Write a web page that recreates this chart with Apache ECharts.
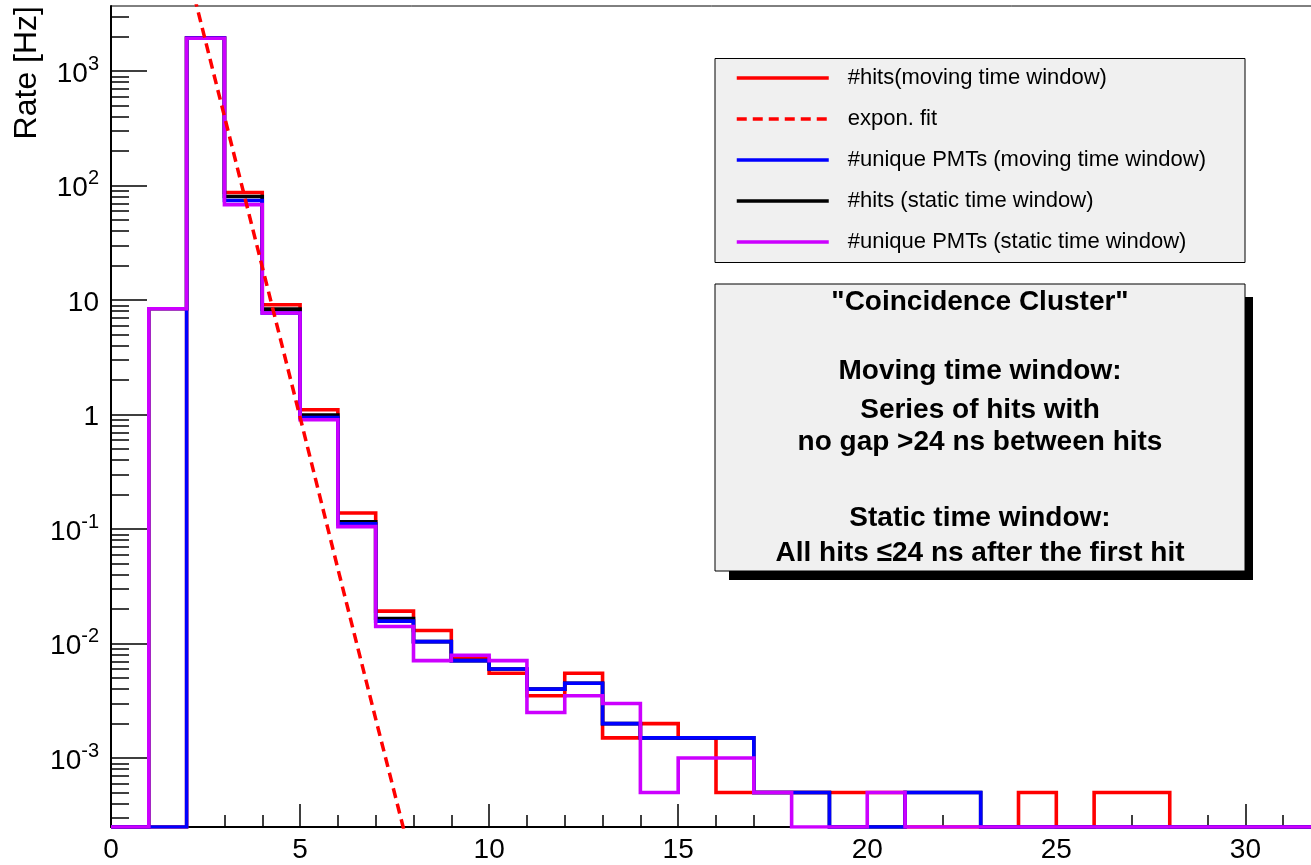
<!DOCTYPE html>
<html>
<head>
<meta charset="utf-8">
<script src="https://cdn.jsdelivr.net/npm/echarts@6/dist/echarts.min.js"></script>
<style>html,body{margin:0;padding:0;background:#fff}#c{width:1311px;height:865px}</style>
</head>
<body>
<div id="c"></div>
<script>
// ---- data ----
const binLow = [0,1,2,3,4,5,6,7,8,9,10,11,12,13,14,15,16,17,18,19,20,21,22,23,24,25,26,27,28,29,30,31];
const xMax = 32;
const hitsMoving = [0,0,1940,87,9.1,1.1,0.138,0.0192,0.0130,0.0074,0.0055,0.0035,0.0055,0.0015,0.0020,0.0015,0.0005,0.0005,0.0005,0.0005,0.0005,0,0,0,0.0005,0,0.0005,0.0005,0,0,0,0];
const pmtsMoving = [0,0,1940,74,7.7,0.94,0.111,0.0157,0.0104,0.0071,0.0060,0.0040,0.0045,0.0020,0.0015,0.0015,0.0015,0.0005,0.0005,0,0,0.0005,0.0005,0,0,0,0,0,0,0,0,0];
const hitsStatic = [0,8.4,1940,80.2,8.33,0.99,0.1156,0.01655,0.0104,0.0071,0.0060,0.0040,0.0045,0.0020,0.0015,0.0015,0.0015,0.0005,0.0005,0,0,0.0005,0.0005,0,0,0,0,0,0,0,0,0];
const pmtsStatic = [0,8.4,1935,68.2,7.7,0.90,0.105,0.0141,0.0071,0.0079,0.0071,0.0025,0.0035,0.0030,0.0005,0.0010,0.0010,0.0005,0,0,0.0005,0,0,0,0,0,0,0,0,0,0,0];
const fitX = [2,3,4,5,6,7,8];
const fitY = [8300,402,19.5,0.95,0.045,0.0022,0.00011];
const xTickLabels = [0,5,10,15,20,25,30];
const xMinorTicks = [1,2,3,4,6,7,8,9,11,12,13,14,16,17,18,19,21,22,23,24,26,27,28,29,31];
const yTickValues = [0.001,0.01,0.1,1,10,100,1000];
const yMinorTicks = [0.0003,0.0004,0.0005,0.0006,0.0007,0.0008,0.0009,
  0.002,0.003,0.004,0.005,0.006,0.007,0.008,0.009,
  0.02,0.03,0.04,0.05,0.06,0.07,0.08,0.09,
  0.2,0.3,0.4,0.5,0.6,0.7,0.8,0.9,
  2,3,4,5,6,7,8,9,20,30,40,50,60,70,80,90,
  200,300,400,500,600,700,800,900,2000,3000];
const yMin = 2.5e-4, yMax = 3700;
const names = ['#hits(moving time window)','expon. fit','#unique PMTs (moving time window)','#hits (static time window)','#unique PMTs (static time window)'];
const boxLines = ['"Coincidence Cluster"','Moving time window:','Series of hits with','no gap >24 ns between hits','Static time window:','All hits \u226424 ns after the first hit'];
const boxLineY = [302,371,410,442,518,553];

// ---- build ----
const FONT = '"Liberation Sans", Arial, Helvetica, sans-serif';
const LW = 3.6;
function steps(vals){
  const pts = binLow.map((x,i)=>[x, Math.max(vals[i], yMin)]);
  pts.push([xMax, Math.max(vals[vals.length-1], yMin)]);
  return pts;
}
function hist(name, vals, color){
  return {type:'line', name, data:steps(vals), step:'end', symbol:'none', showSymbol:false,
    clip:true, silent:true, lineStyle:{color, width:LW, join:'miter'}, itemStyle:{color}};
}
const series = [
  hist(names[0], hitsMoving, '#ff0000'),
  hist(names[3], hitsStatic, '#000000'),
  hist(names[2], pmtsMoving, '#0000ff'),
  hist(names[4], pmtsStatic, '#cc00ff'),
  {type:'line', name:names[1], data:fitX.map((x,i)=>[x,fitY[i]]), symbol:'none', showSymbol:false,
   clip:true, silent:true, lineStyle:{color:'#ff0000', width:3.5, type:[10,6]}, itemStyle:{color:'#ff0000'}}
];
const axisCommonX = {type:'value', min:0, max:xMax, position:'bottom', splitLine:{show:false}};
const axisCommonY = {type:'log', logBase:10, min:yMin, max:yMax, position:'left', splitLine:{show:false}};
const option = {
  animation:false,
  grid:{left:111, top:6, right:-10, bottom:38, show:true, borderColor:'#000', borderWidth:1, containLabel:false, outerBoundsMode:'none'},
  xAxis:[
    Object.assign({}, axisCommonX, {
      axisLine:{show:true, lineStyle:{color:'#000', width:2}},
      axisTick:{show:true, inside:true, length:23, customValues:xTickLabels, lineStyle:{color:'#000', width:1.5}},
      axisLabel:{show:true, customValues:xTickLabels, margin:9, color:'#000', fontSize:28, fontFamily:FONT}
    }),
    Object.assign({}, axisCommonX, {
      axisLine:{show:false},
      axisTick:{show:true, inside:true, length:12, customValues:xMinorTicks, lineStyle:{color:'#000', width:1.5}},
      axisLabel:{show:false}
    })
  ],
  yAxis:[
    Object.assign({}, axisCommonY, {
      axisLine:{show:true, lineStyle:{color:'#000', width:2}},
      axisTick:{show:true, inside:true, length:36, customValues:yTickValues, lineStyle:{color:'#000', width:1.5}},
      axisLabel:{show:true, customValues:yTickValues, margin:12, color:'#000', padding:[6,0,0,0],
        formatter:function(v){
          const n = Math.round(Math.log10(v));
          if(n===0) return '{p|1}';
          if(n===1) return '{p|10}';
          return '{m|10}{s|'+n+'}';
        },
        rich:{
          p:{fontSize:28, lineHeight:28, fontFamily:FONT, color:'#000'},
          m:{fontSize:28, lineHeight:40, fontFamily:FONT, color:'#000'},
          s:{fontSize:20, lineHeight:20, fontFamily:FONT, color:'#000', verticalAlign:'top'}
        }
      }
    }),
    Object.assign({}, axisCommonY, {
      axisLine:{show:false},
      axisTick:{show:true, inside:true, length:18, customValues:yMinorTicks, lineStyle:{color:'#000', width:1.5}},
      axisLabel:{show:false}
    })
  ],
  legend:{
    data:names, orient:'vertical', left:735, top:67, itemWidth:92, itemHeight:22, itemGap:19,
    selectedMode:false, z:10, padding:0,
    itemStyle:{opacity:0, color:'rgba(0,0,0,0)', borderWidth:0},
    lineStyle:{width:3.5},
    textStyle:{fontSize:22, fontFamily:FONT, color:'#000', lineHeight:22, padding:[0,0,0,14]}
  },
  graphic:[
    {type:'rect', z:1, silent:true, shape:{x:715, y:58.5, width:530, height:204}, style:{fill:'#f0f0f0', stroke:'#000', lineWidth:1}},
    {type:'rect', z:1, silent:true, shape:{x:729, y:297, width:524, height:283}, style:{fill:'#000'}},
    {type:'rect', z:2, silent:true, shape:{x:715, y:284, width:530, height:287}, style:{fill:'#f0f0f0', stroke:'#000', lineWidth:1}},
    {type:'text', z:3, silent:true, x:27, y:6, rotation:Math.PI/2,
      style:{text:'Rate [Hz]', fontSize:32, fontFamily:FONT, fill:'#000', align:'right', verticalAlign:'middle'}}
  ].concat(boxLines.map((t,i)=>({type:'text', z:3, silent:true, x:980, y:boxLineY[i],
      style:{text:t, fontSize:28, fontWeight:'bold', fontFamily:FONT, fill:'#000', align:'center', verticalAlign:'middle'}}))),
  series
};
const chart = echarts.init(document.getElementById('c'), null, {renderer:'canvas'});
chart.setOption(option);
</script>
</body>
</html>
